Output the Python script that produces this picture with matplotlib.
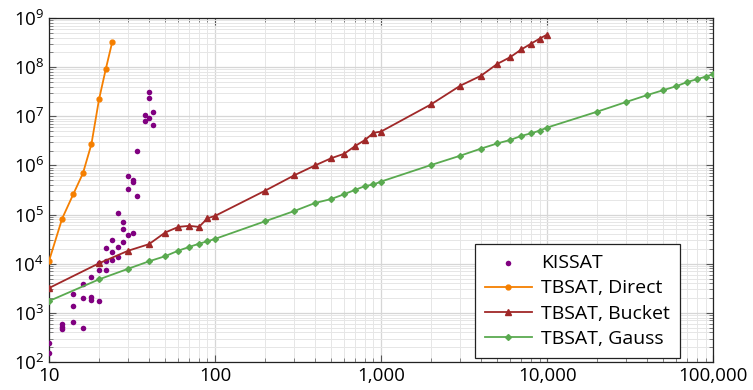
import math
import matplotlib
matplotlib.use("Agg")
import matplotlib.pyplot as plt
from matplotlib.ticker import LogLocator, FuncFormatter, NullFormatter

plt.rcParams["font.family"] = ["Open Sans", "DejaVu Sans"]

# KISSAT (scatter)
kissat_n = [10, 10, 12, 12, 12, 14, 14, 14, 16, 16, 16, 18, 18, 18,
            20, 20, 20, 22, 22, 22, 24, 24, 24, 26, 26, 26, 28, 28, 28,
            30, 30, 30, 32, 32, 32, 34, 34, 38, 38, 40, 40, 40, 42, 42]
kissat_t = [247, 150, 585, 520, 462, 2450, 1380, 650, 3900, 2000, 485,
            5300, 2100, 1830, 10200, 7300, 1740, 21000, 11500, 7600,
            31000, 17600, 12000, 110000, 22000, 13700, 69000, 51000, 28000,
            610000, 330000, 38000, 510000, 470000, 42000, 1940000, 240000,
            10700000, 8200000, 31000000, 24000000, 9100000, 12400000, 6600000]

# TBSAT, Direct
direct_n = [10, 12, 14, 16, 18, 20, 22, 24]
direct_t = [11400, 83000, 260000, 690000, 2700000, 22000000, 93000000, 320000000]

# TBSAT, Bucket
bucket_n = [10, 20, 30, 40, 50, 60, 70, 80, 90, 100, 200, 300, 400, 500,
            600, 700, 800, 900, 1000, 2000, 3000, 4000, 5000, 6000, 7000,
            8000, 9000, 10000]
bucket_t = [3200, 10200, 18400, 25000, 43000, 56000, 59000, 56000, 84000,
            94000, 306000, 630000, 1000000, 1400000, 1730000, 2500000,
            3300000, 4600000, 4900000, 17500000, 42000000, 67000000,
            116000000, 160000000, 230000000, 300000000, 380000000, 460000000]

# TBSAT, Gauss
gauss_n = [10, 20, 30, 40, 50, 60, 70, 80, 90, 100, 200, 300, 400, 500,
           600, 700, 800, 900, 1000, 2000, 3000, 4000, 5000, 6000, 7000,
           8000, 9000, 10000, 20000, 30000, 40000, 50000, 60000, 70000,
           80000, 90000, 100000]
gauss_t = [1740, 4800, 7900, 11200, 14200, 18400, 22000, 25500, 28600,
           32000, 73000, 118000, 172000, 207000, 260000, 320000, 380000,
           410000, 470000, 1020000, 1580000, 2200000, 2800000, 3300000,
           4000000, 4500000, 5100000, 5900000, 12400000, 19600000,
           27000000, 34000000, 41000000, 50000000, 57000000, 64000000,
           72000000]

fig = plt.figure(figsize=(7.53, 3.9), dpi=100)
ax = fig.add_axes([0.0651, 0.0718, 0.882, 0.882])

ax.scatter(kissat_n, kissat_t, s=16, color="#800080", label="KISSAT",
           zorder=3, linewidths=0)
ax.plot(direct_n, direct_t, color="#f57f00", lw=1.3, marker="o", ms=3.5,
        label="TBSAT, Direct", zorder=4)
ax.plot(bucket_n, bucket_t, color="#a02828", lw=1.3, marker="^", ms=4.5,
        label="TBSAT, Bucket", zorder=4)
ax.plot(gauss_n, gauss_t, color="#5aaa50", lw=1.3, marker="D", ms=3,
        label="TBSAT, Gauss", zorder=4)

ax.set_xscale("log")
ax.set_yscale("log")
ax.set_xlim(10, 100000)
ax.set_ylim(100, 1e9)

ax.xaxis.set_major_locator(LogLocator(base=10, numticks=20))
ax.xaxis.set_minor_locator(LogLocator(base=10, subs=range(2, 10), numticks=50))
ax.yaxis.set_major_locator(LogLocator(base=10, numticks=20))
ax.yaxis.set_minor_locator(LogLocator(base=10, subs=range(2, 10), numticks=50))
ax.xaxis.set_major_formatter(FuncFormatter(lambda v, p: f"{int(round(v)):,}"))
ax.yaxis.set_major_formatter(
    FuncFormatter(lambda v, p: r"$\mathregular{10^{%d}}$" % round(math.log10(v))))
ax.xaxis.set_minor_formatter(NullFormatter())
ax.yaxis.set_minor_formatter(NullFormatter())

ax.grid(True, which="major", color="#d6d6d6", lw=0.9)
ax.grid(True, which="minor", color="#e6e6e6", lw=0.7)
ax.set_axisbelow(True)

ax.tick_params(which="both", direction="in", top=True, right=True,
               color="#555555", labelsize=13.5)
ax.tick_params(which="major", length=5, width=0.8)
ax.tick_params(which="minor", length=3, width=0.5)
for s in ax.spines.values():
    s.set_color("#222222")
    s.set_linewidth(0.9)

leg = ax.legend(loc="lower right", fontsize=14, frameon=True, fancybox=False,
                edgecolor="#222222", framealpha=1, borderpad=0.5,
                handlelength=2.4, handletextpad=0.5, labelspacing=0.38,
                borderaxespad=0, bbox_to_anchor=(0.950, 0.012))
leg.get_frame().set_linewidth(0.9)

fig.savefig("out.png", dpi=100)
